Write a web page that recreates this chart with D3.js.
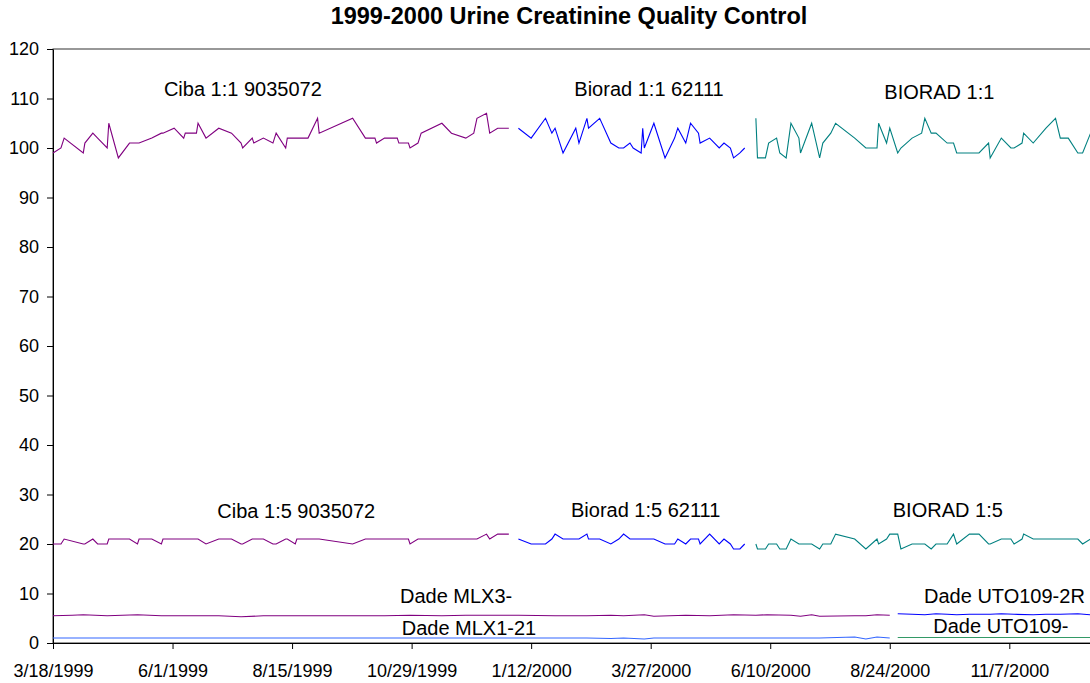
<!DOCTYPE html>
<html>
<head>
<meta charset="utf-8">
<script src="https://cdn.jsdelivr.net/npm/d3@7"></script>
<style>
  body { margin: 0; background: #fff; }
  svg { display: block; font-family: "Liberation Sans", Arial, sans-serif; }
</style>
</head>
<body>
<div id="chart"></div>
<script>
// x values are days counted from 3/18/1999
const startDate = "3/18/1999";
const tickLabels = ["3/18/1999", "6/1/1999", "8/15/1999", "10/29/1999", "1/12/2000",
                    "3/27/2000", "6/10/2000", "8/24/2000", "11/7/2000"];
const yTicks = [0, 10, 20, 30, 40, 50, 60, 70, 80, 90, 100, 110, 120];

// Ciba lot 9035072
const cibaDays = [0, 5, 7, 19, 20, 25, 28, 34, 35, 41, 48, 53, 54, 62, 68, 69, 76, 82, 83, 90,
                  91, 96, 104, 112, 118, 119, 125, 126, 132, 138, 140, 146, 147, 152, 153, 160, 166, 167, 188, 196,
                  202, 203, 208, 216, 217, 223, 224, 229, 231, 244, 250, 259, 264, 266, 272, 274, 279, 286];
const ciba11 = [99, 100, 102, 99, 101, 103, 102, 100, 105, 98, 101, 101, 101, 102, 103, 103, 104, 102, 103, 103,
                105, 102, 104, 103, 101, 100, 102, 101, 102, 101, 103, 100, 102, 102, 102, 102, 106, 103, 106, 102,
                102, 101, 102, 102, 101, 101, 100, 101, 103, 105, 103, 102, 103, 106, 107, 103, 104, 104];
const ciba15 = [20, 20, 21, 20, 20, 21, 20, 20, 21, 21, 21, 20, 21, 21, 20, 21, 21, 21, 21, 21,
                21, 20, 21, 21, 20, 20, 21, 21, 21, 20, 20, 21, 21, 20, 21, 21, 21, 21, 20, 21,
                21, 21, 21, 21, 21, 21, 20, 21, 21, 21, 21, 21, 21, 21, 22, 21, 22, 22];

// Biorad lot 62111
const bioradDays = [292, 300, 309, 313, 315, 320, 328, 330, 335, 336, 343, 350, 355, 358, 362, 364, 369, 370, 371, 377,
                    384, 390, 392, 397, 400, 405, 406, 412, 418, 421, 425, 427, 431, 434];
const biorad11 = [104, 102, 106, 103, 104, 99, 104, 101, 106, 104, 106, 101, 100, 100, 101, 100, 99, 104, 100, 105,
                  98, 102, 104, 101, 105, 103, 101, 102, 100, 101, 100, 98, 99, 100];
const biorad15 = [21, 20, 20, 21, 22, 21, 21, 21, 22, 21, 21, 20, 21, 22, 21, 21, 21, 21, 21, 21,
                  20, 20, 21, 20, 21, 21, 20, 22, 20, 21, 20, 19, 19, 20];

// BIORAD new lot
const bioradNewDays = [441, 442, 447, 449, 454, 456, 460, 463, 468, 469, 476, 481, 483, 488, 491, 503, 510, 517, 518, 523,
                       525, 530, 532, 539, 545, 547, 551, 554, 561, 565, 567, 575, 581, 587, 588, 595, 601, 603, 608, 609,
                       615, 623, 629, 632, 637, 643, 646, 651, 657];
const bioradNew11 = [106, 98, 98, 101, 102, 99, 98, 105, 102, 99, 105, 98, 101, 103, 105, 102, 100, 100, 105, 101,
                     104, 99, 100, 102, 103, 106, 103, 103, 101, 101, 99, 99, 99, 101, 98, 102, 100, 100, 101, 103,
                     101, 104, 106, 102, 102, 99, 99, 103, 103];
const bioradNew15 = [20, 19, 19, 20, 20, 19, 19, 21, 20, 20, 20, 19, 20, 20, 22, 21, 19, 21, 20, 21,
                     22, 22, 19, 20, 20, 20, 19, 20, 20, 22, 20, 22, 22, 20, 20, 21, 21, 20, 21, 22,
                     21, 21, 21, 21, 21, 21, 20, 21, 21];

// Dade MLX controls
const mlxDays = [0, 12, 19, 34, 53, 68, 90, 104, 118, 132, 153, 167, 188, 208, 224, 244, 259, 279, 292, 315,
                 335, 350, 358, 371, 377, 397, 412, 427, 441, 448, 463, 469, 476, 481, 503, 510, 517, 525];
const mlx3 = [5.5, 5.6, 5.7, 5.5, 5.7, 5.5, 5.5, 5.5, 5.3, 5.5, 5.5, 5.5, 5.5, 5.5, 5.6, 5.5, 5.6, 5.6, 5.6, 5.5,
              5.5, 5.6, 5.5, 5.7, 5.4, 5.6, 5.5, 5.7, 5.6, 5.7, 5.6, 5.4, 5.7, 5.4, 5.5, 5.5, 5.7, 5.6];
const mlx1 = [1, 1, 1, 1, 1, 1, 1, 1, 1, 1, 1, 1, 1, 1, 1, 1, 1, 1, 1, 1,
              1, 0.9, 1, 0.8, 1, 1, 1, 1, 1, 1, 1, 1, 1, 1, 1.2, 0.8, 1.2, 1];

// Dade UTO109 controls
const utoDays = [530, 539, 547, 554, 561, 567, 575, 588, 595, 603, 615, 623, 632, 643, 651, 657];
const uto2r = [5.9, 5.8, 5.7, 5.9, 5.8, 5.7, 5.8, 5.8, 5.9, 5.8, 5.7, 5.8, 5.8, 5.9, 5.7, 5.8];
const uto1 = [1.1, 1.1, 1.1, 1.1, 1.1, 1.1, 1.1, 1.1, 1.1, 1.1, 1.1, 1.1, 1.1, 1.1, 1.1, 1.1];

const width = 1090;
const height = 683;
const pxPerDay = 956.3 / 600;
const lastDay = 660;

const parseDate = d3.utcParse("%m/%d/%Y");
const start = parseDate(startDate);
const dayToDate = d => new Date(start.getTime() + d * 864e5);

const svg = d3.select("#chart")
    .append("svg")
    .attr("width", width)
    .attr("height", height);

svg.append("rect")
    .attr("width", width)
    .attr("height", height)
    .attr("fill", "#fff");

const x = d3.scaleUtc()
    .domain([start, dayToDate(lastDay)])
    .range([53, 53 + lastDay * pxPerDay]);

const y = d3.scaleLinear()
    .domain([0, 120])
    .range([643, 49]);

// plot area border
svg.append("rect")
    .attr("x", x.range()[0])
    .attr("y", y(120))
    .attr("width", x.range()[1] - x.range()[0])
    .attr("height", y(0) - y(120))
    .attr("fill", "none")
    .attr("stroke", "#333")
    .attr("stroke-width", 1);

// title
svg.append("text")
    .attr("x", 569)
    .attr("y", 24)
    .attr("text-anchor", "middle")
    .style("font-size", "23.5px")
    .style("font-weight", "bold")
    .text("1999-2000 Urine Creatinine Quality Control");

// axes
const yAxis = svg.append("g")
    .attr("transform", `translate(${x.range()[0]},0)`)
    .call(d3.axisLeft(y).tickValues(yTicks).tickSize(6).tickSizeOuter(0).tickPadding(8));

const xAxis = svg.append("g")
    .attr("transform", `translate(0,${y(0)})`)
    .call(d3.axisBottom(x)
        .tickValues(tickLabels.map(parseDate))
        .tickFormat((d, i) => tickLabels[i])
        .tickSize(6)
        .tickSizeOuter(0));

[yAxis, xAxis].forEach(g => {
    g.select(".domain").attr("stroke", "#000");
    g.selectAll(".tick line").attr("stroke", "#000");
    g.selectAll("text")
        .attr("fill", "#000")
        .style("font-size", "18px")
        .style("font-family", "'Liberation Sans', Arial, sans-serif");
});
xAxis.selectAll("text").attr("y", 34).attr("dy", 0);

// series lines
const series = [
    { days: cibaDays, vals: ciba11, color: "#800080" },
    { days: cibaDays, vals: ciba15, color: "#800080" },
    { days: bioradDays, vals: biorad11, color: "#0000FF" },
    { days: bioradDays, vals: biorad15, color: "#0000FF" },
    { days: bioradNewDays, vals: bioradNew11, color: "#008080" },
    { days: bioradNewDays, vals: bioradNew15, color: "#008080" },
    { days: mlxDays, vals: mlx3, color: "#800080" },
    { days: mlxDays, vals: mlx1, color: "#3366FF" },
    { days: utoDays, vals: uto2r, color: "#0000FF" },
    { days: utoDays, vals: uto1, color: "#339966" }
];

const line = d3.line()
    .x(d => x(dayToDate(d[0])))
    .y(d => y(d[1]));

svg.append("g")
    .selectAll("path")
    .data(series)
    .join("path")
    .attr("d", s => line(s.days.map((d, i) => [d, s.vals[i]])))
    .attr("fill", "none")
    .attr("stroke", s => s.color)
    .attr("stroke-width", 1.1);

// series labels, placed in data coordinates (day, value)
const labels = [
    { text: "Ciba 1:1 9035072", day: 69.6, value: 110.5 },
    { text: "Biorad 1:1 62111", day: 327.1, value: 110.6 },
    { text: "BIORAD 1:1", day: 521.6, value: 109.8 },
    { text: "Ciba 1:5 9035072", day: 103.1, value: 25.2 },
    { text: "Biorad 1:5 62111", day: 325.0, value: 25.5 },
    { text: "BIORAD 1:5", day: 526.9, value: 25.5 },
    { text: "Dade MLX3-", day: 217.7, value: 8.14 },
    { text: "Dade MLX1-21", day: 218.8, value: 1.6 },
    { text: "Dade UTO109-2R", day: 546.5, value: 8.14 },
    { text: "Dade UTO109-", day: 552.3, value: 1.96 }
];

svg.append("g")
    .selectAll("text")
    .data(labels)
    .join("text")
    .attr("x", d => x(dayToDate(d.day)))
    .attr("y", d => y(d.value))
    .style("font-size", "20px")
    .attr("fill", "#000")
    .text(d => d.text);
</script>
</body>
</html>
